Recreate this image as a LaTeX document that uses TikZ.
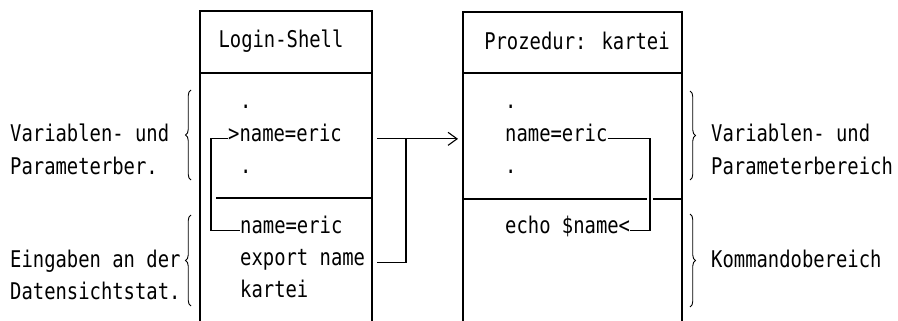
\documentclass[tikz,border=0pt]{standalone}
\usepackage{fontspec}
\newfontfamily\diagfont[FakeStretch=0.82]{DejaVu Sans Mono}
\usetikzlibrary{arrows.meta,decorations.pathreplacing}

\tikzset{
  txt/.style={inner sep=0pt, anchor=base west,
    font=\diagfont\fontsize{23}{26}\selectfont},
  ttl/.style={inner sep=0pt, anchor=center,
    font=\diagfont\fontsize{23}{26}\selectfont},
  frame/.style={line width=1.2pt},
  link/.style={line width=1.1pt},
  bracket/.style={line width=0.9pt, decorate, decoration={brace, amplitude=5.5pt}},
  chevron/.style={-{Straight Barb[length=9pt,width=13pt,line width=1.1pt]}}
}

\begin{document}
\begin{tikzpicture}[x=1pt,y=-1pt]
\useasboundingbox (0,0) rectangle (898,321);

% --- left frame: Login-Shell ---
\draw[frame] (200,321) -- (200,11) -- (372,11) -- (372,321);
\draw[frame] (200,73) -- (372,73);
\draw[frame] (216,198) -- (372,198);
\node[ttl] (lhead) at (281,41) {Login-Shell};

\node[txt] (ld1) at (240,109) {.};
\node[txt] (lvar) at (228,141) {>name=eric};
\node[txt] (ld2) at (240,173) {.};
\node[txt] (lname) at (240,233) {name=eric};
\node[txt] (lexport) at (240,265) {export name};
\node[txt] (lkartei) at (240,297) {kartei};

% --- right frame: Prozedur ---
\draw[frame] (463,321) -- (463,12) -- (682,12) -- (682,321);
\draw[frame] (463,73) -- (682,73);
\draw[frame] (463,199) -- (647,199);
\draw[frame] (653,199) -- (682,199);
\node[ttl] (rhead) at (577,41) {Prozedur: kartei};

\node[txt] (rd1) at (505,109) {.};
\node[txt] (rvar) at (505,141) {name=eric};
\node[txt] (rd2) at (505,173) {.};
\node[txt] (recho) at (505,233) {echo \$name<};

% --- connectors ---
\coordinate (lloop) at (211,0);
\draw[link] (lname.mid west) -- (lname.mid west -| lloop)
  -- (lvar.mid west -| lloop) -- (lvar.mid west);

\coordinate (xout) at (377,0);
\coordinate (xin) at (458,0);
\coordinate (xjoin) at (406,0);
\draw[link,chevron] (lvar.mid -| xout) -- (lvar.mid -| xin);
\draw[link] (lexport.mid -| xout) -- (lexport.mid -| xjoin) -- (lvar.mid -| xjoin);

\coordinate (rloop) at (650,0);
\draw[link] (rvar.mid east) -- (rvar.mid east -| rloop)
  -- (recho.mid east -| rloop) -- (recho.mid east);

% --- braces and their labels ---
\draw[bracket] (191,180) -- (191,90);
\draw[bracket] (191,306) -- (191,215);
\draw[bracket] (690,91) -- (690,180);
\draw[bracket] (690,214) -- (690,307);

\node[txt] (lab1a) at (10,142) {Variablen- und};
\node[txt] (lab1b) at (10,175) {Parameterber.};
\node[txt] (lab2a) at (10,267) {Eingaben an der};
\node[txt] (lab2b) at (10,299) {Datensichtstat.};
\node[txt] (lab3a) at (711,142) {Variablen- und};
\node[txt] (lab3b) at (711,174) {Parameterbereich};
\node[txt] (lab4) at (711,267) {Kommandobereich};
\end{tikzpicture}
\end{document}
